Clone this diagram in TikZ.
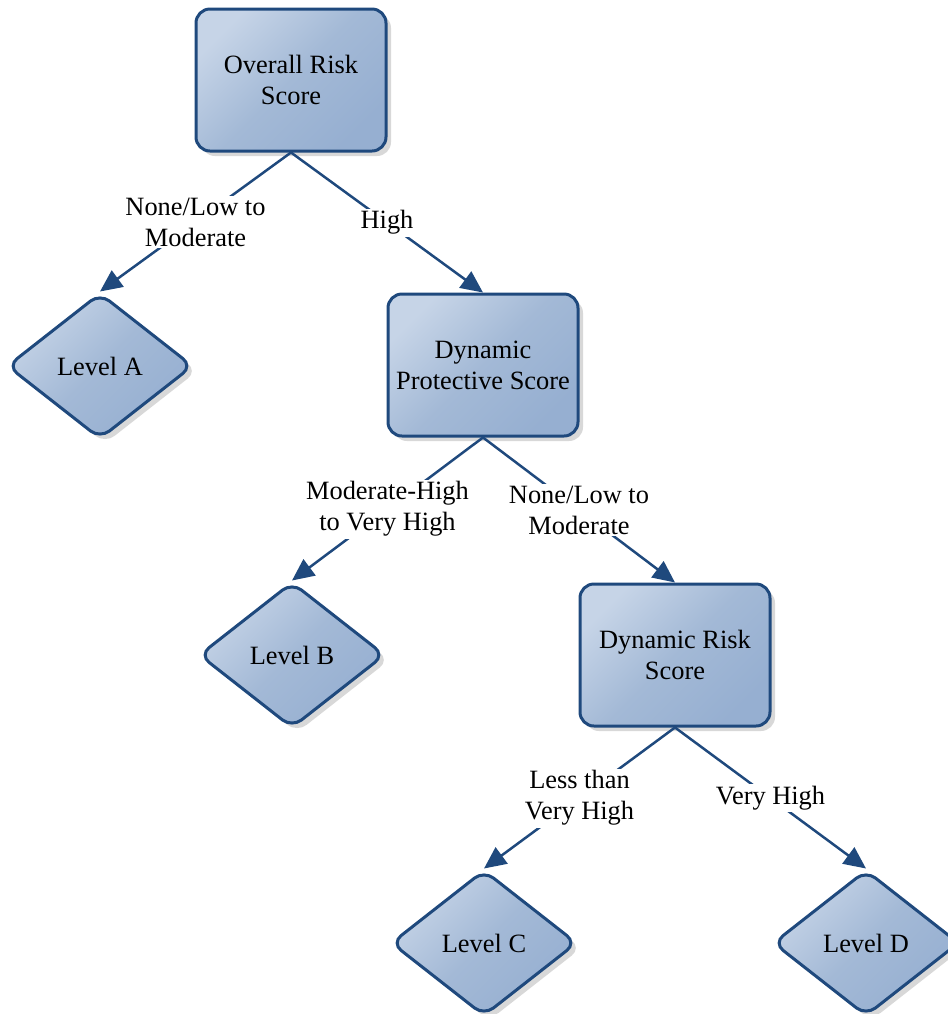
\documentclass[tikz,border=0pt]{standalone}
\usepackage{fontspec}
\setmainfont{Liberation Serif}
\usetikzlibrary{shapes.geometric,shadows,arrows.meta}
\definecolor{edgeblue}{RGB}{31,73,125}
\definecolor{lightfill}{RGB}{198,212,231}
\definecolor{midfill}{RGB}{163,185,214}
\definecolor{darkfill}{RGB}{150,175,209}

\begin{document}
\begin{tikzpicture}[x=0.5pt,y=-0.5pt,
    every node/.style={font=\fontsize{13.2}{15.5}\selectfont},
    score/.style={draw=edgeblue,line width=1.5pt,rounded corners=7pt,
      top color=lightfill,bottom color=darkfill,middle color=midfill,shading angle=45,
      minimum width=95pt,minimum height=71pt,align=center,
      drop shadow={shadow xshift=2.5pt,shadow yshift=-2.5pt,fill=black!30}},
    level/.style={diamond,draw=edgeblue,line width=1.5pt,rounded corners=6pt,
      top color=lightfill,bottom color=darkfill,middle color=midfill,shading angle=45,
      minimum width=93pt,minimum height=73pt,inner sep=0pt,
      drop shadow={shadow xshift=2.5pt,shadow yshift=-2.5pt,fill=black!30}},
    branch/.style={draw=edgeblue,line width=1.25pt,-{Triangle[length=11pt,width=10pt]}},
    lbl/.style={fill=white,align=center,inner sep=1pt}]
    \useasboundingbox (0,0) rectangle (948,1014);
    % scores and levels
    \node[score] (ors) at (291,80) {Overall Risk\\Score};
    \node[level] (lva) at (100,366) {Level A};
    \node[score] (dps) at (483,365) {Dynamic\\Protective Score};
    \node[level] (lvb) at (292,655) {Level B};
    \node[score] (drs) at (675,655) {Dynamic Risk\\Score};
    \node[level] (lvc) at (484,943) {Level C};
    \node[level] (lvd) at (866,943) {Level D};
    % branches
    \draw[branch] (ors.south) -- node[lbl] {None/Low to\\Moderate} (lva.north);
    \draw[branch] (ors.south) -- node[lbl] {High} (dps.north);
    \draw[branch] (dps.south) -- node[lbl] {Moderate-High\\to Very High} (lvb.north);
    \draw[branch] (dps.south) -- node[lbl] {None/Low to\\Moderate} (drs.north);
    \draw[branch] (drs.south) -- node[lbl] {Less than\\Very High} (lvc.north);
    \draw[branch] (drs.south) -- node[lbl] {Very High} (lvd.north);
\end{tikzpicture}
\end{document}
